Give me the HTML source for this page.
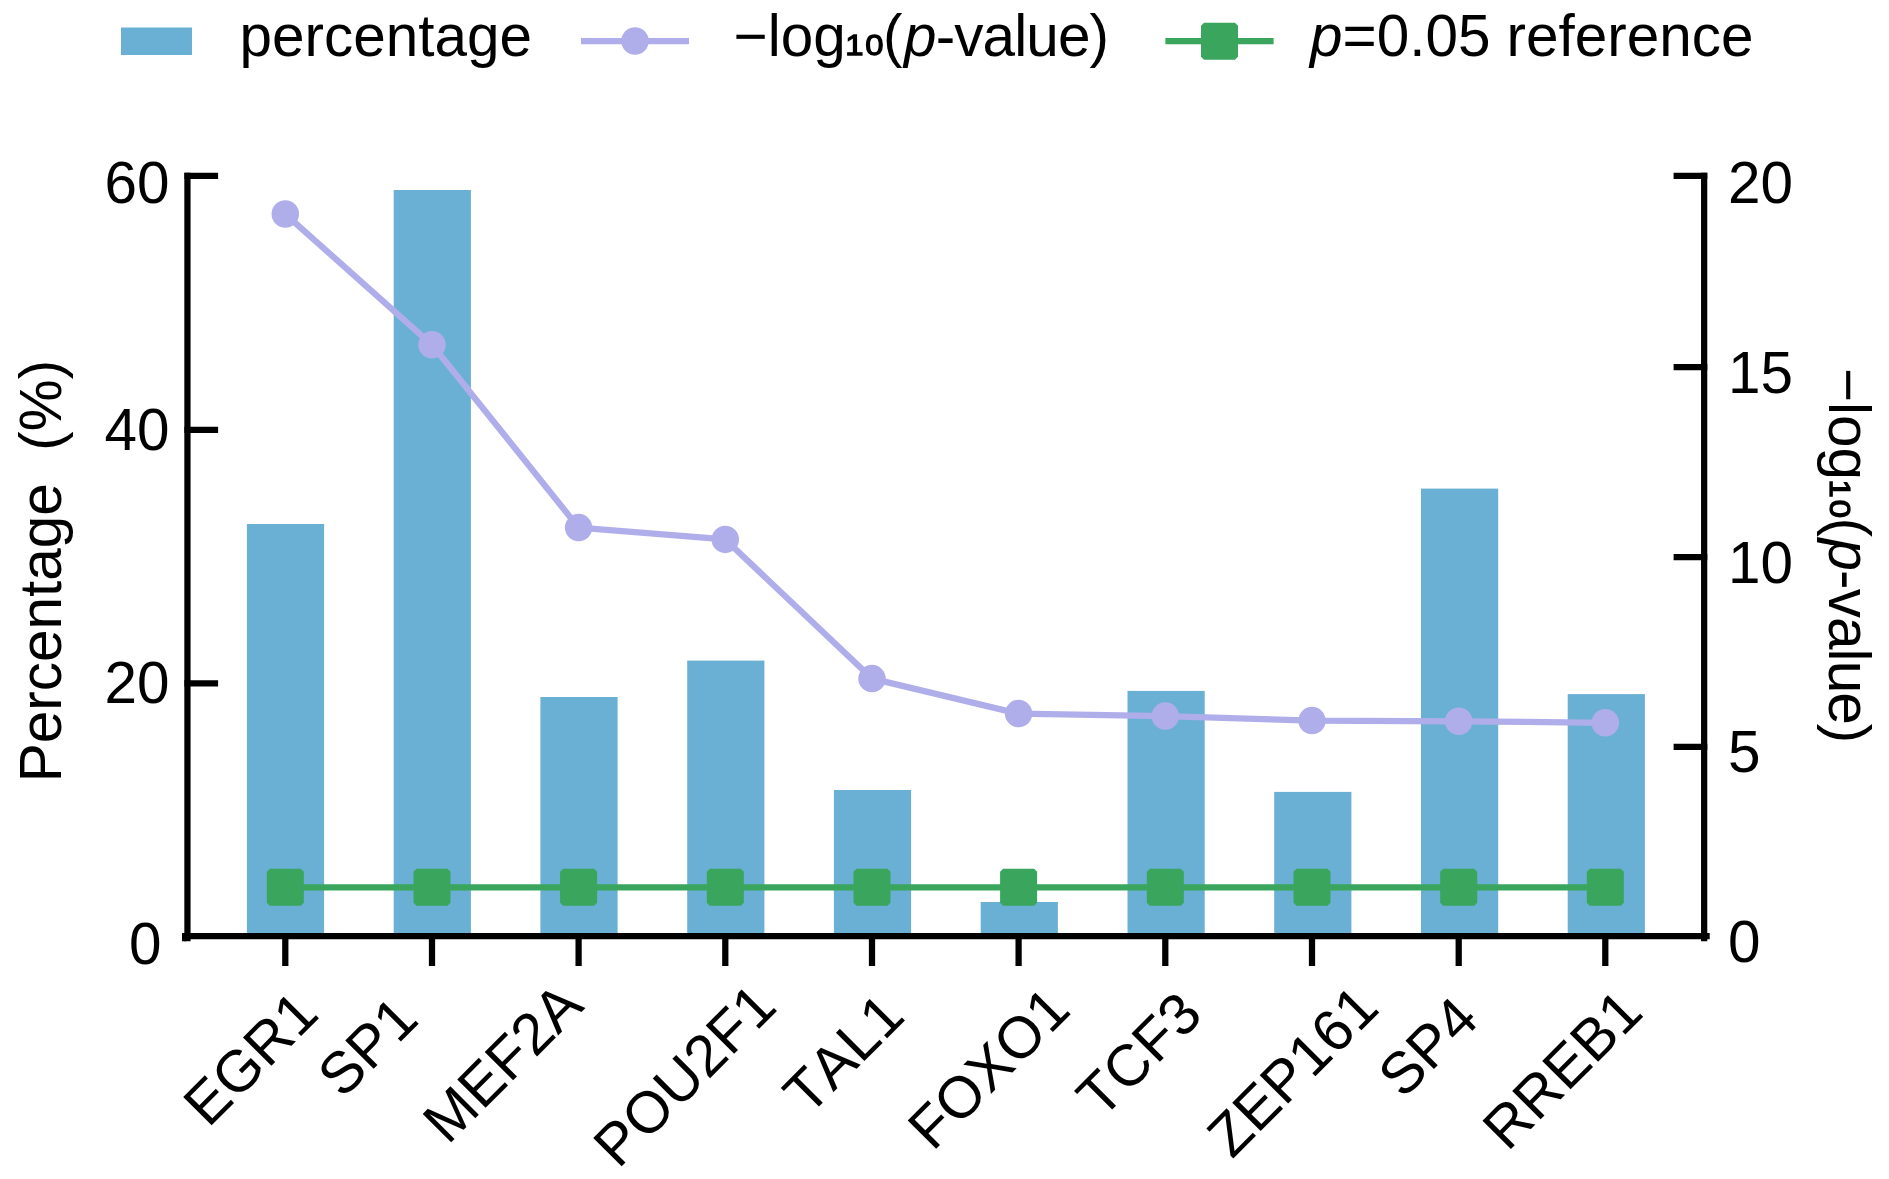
<!DOCTYPE html>
<html lang="en"><head><meta charset="utf-8"><title>TF enrichment chart</title>
<style>
html,body{margin:0;padding:0;background:#fff;}
body{width:1889px;height:1179px;overflow:hidden;}
svg{display:block;}
text{font-family:"Liberation Sans",Arial,Helvetica,sans-serif;font-size:58.45px;fill:#000;font-kerning:none;}
.i{font-style:italic;}
.t{letter-spacing:-0.9px;}
.sub{font-size:52px;stroke:#000;stroke-width:1.3px;letter-spacing:0.3px;}
</style></head><body>
<svg width="1889" height="1179" viewBox="0 0 1889 1179">
<rect width="1889" height="1179" fill="#fff"/>

<g fill="#6ab0d4">
<rect x="246.9" y="524" width="77.2" height="412.2"/>
<rect x="393.7" y="190" width="77.2" height="746.2"/>
<rect x="540.4" y="697" width="77.2" height="239.2"/>
<rect x="687.2" y="660.6" width="77.2" height="275.6"/>
<rect x="833.9" y="790" width="77.2" height="146.2"/>
<rect x="980.7" y="902" width="77.2" height="34.2"/>
<rect x="1127.5" y="690.9" width="77.2" height="245.3"/>
<rect x="1274.2" y="791.9" width="77.2" height="144.3"/>
<rect x="1421.0" y="488.6" width="77.2" height="447.6"/>
<rect x="1567.7" y="694.1" width="77.2" height="242.1"/>
</g>
<polyline points="285.3,214.05 432.0,344.8 578.6,527.6 725.3,539.4 872.0,678.6 1018.6,713.6 1165.3,716.1 1312.0,720.6 1458.7,721.3 1605.3,722.8" fill="none" stroke="#b0aeea" stroke-width="6.25" stroke-linejoin="round"/>
<g fill="#b0aeea"><circle cx="285.3" cy="214.05" r="13.75"/><circle cx="432.0" cy="344.8" r="13.75"/><circle cx="578.6" cy="527.6" r="13.75"/><circle cx="725.3" cy="539.4" r="13.75"/><circle cx="872.0" cy="678.6" r="13.75"/><circle cx="1018.6" cy="713.6" r="13.75"/><circle cx="1165.3" cy="716.1" r="13.75"/><circle cx="1312.0" cy="720.6" r="13.75"/><circle cx="1458.7" cy="721.3" r="13.75"/><circle cx="1605.3" cy="722.8" r="13.75"/></g>
<line x1="285.3" y1="887.3" x2="1605.3" y2="887.3" stroke="#3aa55d" stroke-width="6.25"/>
<g fill="#3aa55d"><path d="M269.8,868.8H300.8L303.8,871.8V902.8L300.8,905.8H269.8L266.8,902.8V871.8Z"/><path d="M416.5,868.8H447.5L450.5,871.8V902.8L447.5,905.8H416.5L413.5,902.8V871.8Z"/><path d="M563.1,868.8H594.1L597.1,871.8V902.8L594.1,905.8H563.1L560.1,902.8V871.8Z"/><path d="M709.8,868.8H740.8L743.8,871.8V902.8L740.8,905.8H709.8L706.8,902.8V871.8Z"/><path d="M856.5,868.8H887.5L890.5,871.8V902.8L887.5,905.8H856.5L853.5,902.8V871.8Z"/><path d="M1003.1,868.8H1034.1L1037.1,871.8V902.8L1034.1,905.8H1003.1L1000.1,902.8V871.8Z"/><path d="M1149.8,868.8H1180.8L1183.8,871.8V902.8L1180.8,905.8H1149.8L1146.8,902.8V871.8Z"/><path d="M1296.5,868.8H1327.5L1330.5,871.8V902.8L1327.5,905.8H1296.5L1293.5,902.8V871.8Z"/><path d="M1443.2,868.8H1474.2L1477.2,871.8V902.8L1474.2,905.8H1443.2L1440.2,902.8V871.8Z"/><path d="M1589.8,868.8H1620.8L1623.8,871.8V902.8L1620.8,905.8H1589.8L1586.8,902.8V871.8Z"/></g>
<g stroke="#000" stroke-width="6.25" fill="none">
<path d="M187.45,172.85V941.3"/>
<path d="M1704.15,172.85V941.3"/>
<path d="M182,936.2H1709.7"/>
<path d="M184.4,175.97H218.1"/>
<path d="M184.4,429.8H218.1"/>
<path d="M184.4,683.3H218.1"/>
<path d="M1673.6,175.97H1707.3"/>
<path d="M1673.6,367.2H1707.3"/>
<path d="M1673.6,557H1707.3"/>
<path d="M1673.6,746.8H1707.3"/>
<path d="M285.3,936.2V966"/>
<path d="M432.0,936.2V966"/>
<path d="M578.6,936.2V966"/>
<path d="M725.3,936.2V966"/>
<path d="M872.0,936.2V966"/>
<path d="M1018.6,936.2V966"/>
<path d="M1165.3,936.2V966"/>
<path d="M1312.0,936.2V966"/>
<path d="M1458.7,936.2V966"/>
<path d="M1605.3,936.2V966"/>
</g>
<rect x="182" y="935" width="4" height="6.3" fill="#000"/>
<text x="169.4" y="203.3" text-anchor="end">60</text>
<text x="169.4" y="450.1" text-anchor="end">40</text>
<text x="169.4" y="703" text-anchor="end">20</text>
<text x="161.4" y="964.3" text-anchor="end">0</text>
<text x="1728" y="203.3">20</text>
<text x="1728" y="392.9">15</text>
<text x="1728" y="582.5">10</text>
<text x="1728" y="772.1">5</text>
<text x="1728" y="961.8">0</text>
<text transform="translate(320.9,1016.3) rotate(-45)" text-anchor="end">EGR1</text>
<text transform="translate(420.7,1021.7) rotate(-45)" text-anchor="end">SP1</text>
<text transform="translate(585.6,1008.0) rotate(-45)" text-anchor="end">MEF2A</text>
<text transform="translate(779.1,1009.0) rotate(-45)" text-anchor="end">POU2F1</text>
<text transform="translate(906.9,1018.6) rotate(-45)" text-anchor="end">TAL1</text>
<text transform="translate(1072.8,1012.3) rotate(-45)" text-anchor="end">FOXO1</text>
<text transform="translate(1204.7,1017.0) rotate(-45)" text-anchor="end">TCF3</text>
<text transform="translate(1381.3,1010.5) rotate(-45)" text-anchor="end">ZEP161</text>
<text transform="translate(1481.0,1021.9) rotate(-45)" text-anchor="end">SP4</text>
<text transform="translate(1645.3,1014.7) rotate(-45)" text-anchor="end">RREB1</text>
<text transform="translate(60.6,571) rotate(-90)" text-anchor="middle" xml:space="preserve">Percentage  (%)</text>
<text transform="translate(1829.3,555.2) rotate(90)" text-anchor="middle">−log<tspan class="sub" dy="-4.9">₁₀</tspan><tspan dy="4.9" dx="-2.4" class="t">(</tspan><tspan class="i t" dx="2.5">p</tspan><tspan class="t">-value)</tspan></text>
<rect x="121" y="27.5" width="71" height="27.5" fill="#6ab0d4"/>
<text x="239.5" y="56">percentage</text>
<line x1="581" y1="41" x2="689" y2="41" stroke="#b0aeea" stroke-width="6.25"/><circle cx="635" cy="41" r="13.75" fill="#b0aeea"/>
<text x="733.6" y="56">−log<tspan class="sub" dy="-4.9">₁₀</tspan><tspan dy="4.9" dx="-2.4" class="t">(</tspan><tspan class="i t" dx="2.5">p</tspan><tspan class="t">-value)</tspan></text>
<line x1="1165.4" y1="41" x2="1273.6" y2="41" stroke="#3aa55d" stroke-width="6.25"/><g fill="#3aa55d"><path d="M1204.0,22.8H1235.0L1238.0,25.8V56.8L1235.0,59.8H1204.0L1201.0,56.8V25.8Z"/></g>
<text x="1310" y="56"><tspan class="i">p</tspan>=0.05 reference</text>
</svg></body></html>
